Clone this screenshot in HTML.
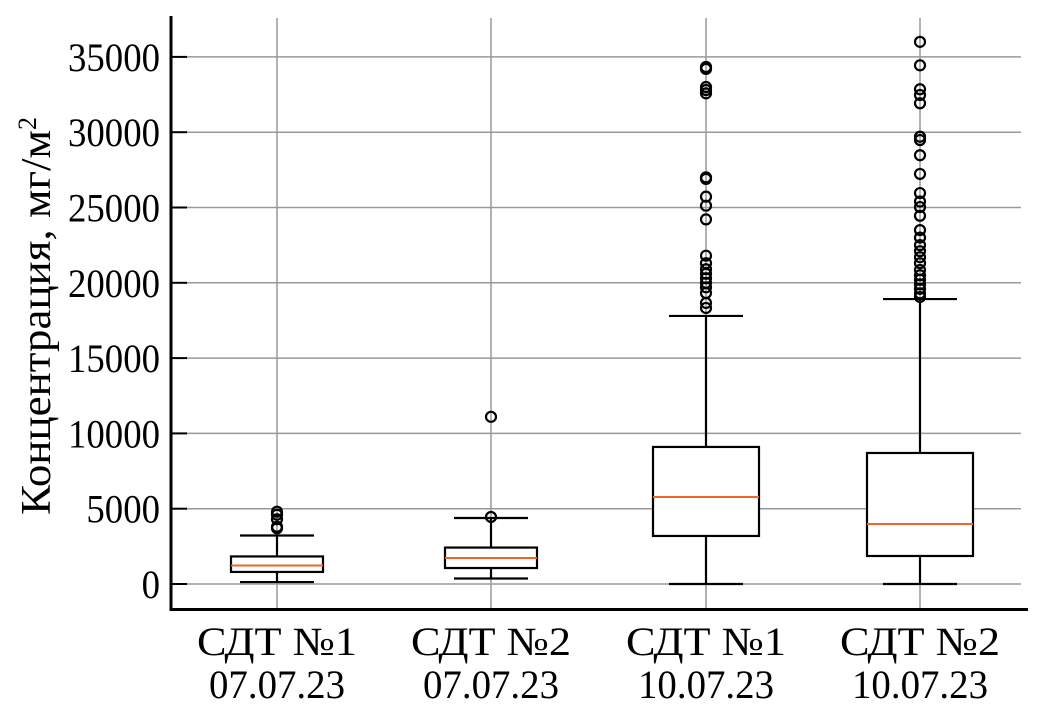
<!DOCTYPE html>
<html><head><meta charset="utf-8"><style>
html,body{margin:0;padding:0;background:#fff;width:1052px;height:718px;overflow:hidden}
svg text{font-family:"Liberation Serif",serif;fill:#000}
</style></head><body>
<svg id="chart" width="1052" height="718" viewBox="0 0 1052 718" xmlns="http://www.w3.org/2000/svg"></svg>
<script>
const categories1 = ["СДТ №1", "СДТ №2", "СДТ №1", "СДТ №2"];
const categories2 = ["07.07.23", "07.07.23", "10.07.23", "10.07.23"];
const whiskerLow = [130, 365, 0, 0];
const q1 = [800, 1060, 3190, 1860];
const medians = [1230, 1730, 5780, 3980];
const q3 = [1830, 2420, 9100, 8700];
const whiskerHigh = [3220, 4380, 17800, 18920];
const outliers = [
  [3700, 3800, 4300, 4600, 4800],
  [4450, 11100],
  [18330, 18660, 19320, 19700, 20000, 20300, 20600, 20900, 21300, 21800, 24210, 25120, 25720, 26900, 27000, 32580, 32800, 33000, 34200, 34330],
  [19060, 19300, 19600, 19900, 20200, 20500, 20850, 21300, 21700, 22100, 22500, 23000, 23500, 24450, 25030, 25400, 25960, 27230, 28470, 29480, 29700, 31920, 32470, 32850, 34440, 36000]
];
const yTicks = [0, 5000, 10000, 15000, 20000, 25000, 30000, 35000];

const NS = "http://www.w3.org/2000/svg";
const svg = document.getElementById("chart");
const X0 = 171, X1 = 1021, Y0 = 584, PX = 75.3 / 5000;
const xCenters = [277, 491, 706, 920];
function yScale(v){ return Y0 - v * PX; }
function xScale(i){ return xCenters[i]; }
function mk(tag, attrs, parent){ const e = document.createElementNS(NS, tag); for (const k in attrs) e.setAttribute(k, attrs[k]); (parent||svg).appendChild(e); return e; }

const grid = mk("g", {});


yTicks.forEach(t => {
  const l = mk("line", {x1:X0, x2:X1, y1:yScale(t), y2:yScale(t), stroke:"#999", "stroke-width":1.5}, grid);
  
  
});
categories1.forEach((c,i) => {
  const l = mk("line", {x1:xScale(i), x2:xScale(i), y1:18, y2:609, stroke:"#999", "stroke-width":1.5}, grid);
  
  
});

categories1.forEach((c,i) => {
  const g = mk("g", {});
  
  
  const x = xScale(i), hw = i<2 ? 46 : 53, cw = 37;
  mk("line", {x1:x, x2:x, y1:yScale(whiskerLow[i]), y2:yScale(q1[i]), stroke:"#000", "stroke-width":2.2}, g);
  mk("line", {x1:x, x2:x, y1:yScale(q3[i]), y2:yScale(whiskerHigh[i]), stroke:"#000", "stroke-width":2.2}, g);
  mk("line", {x1:x-cw, x2:x+cw, y1:yScale(whiskerLow[i]), y2:yScale(whiskerLow[i]), stroke:"#000", "stroke-width":2.2}, g);
  mk("line", {x1:x-cw, x2:x+cw, y1:yScale(whiskerHigh[i]), y2:yScale(whiskerHigh[i]), stroke:"#000", "stroke-width":2.2}, g);
  mk("rect", {x:x-hw, y:yScale(q3[i]), width:2*hw, height:yScale(q1[i])-yScale(q3[i]), fill:"#fff", stroke:"#000", "stroke-width":2.2}, g);
  mk("line", {x1:x-hw, x2:x+hw, y1:yScale(medians[i]), y2:yScale(medians[i]), stroke:"#f0642a", "stroke-width":2}, g);
  outliers[i].forEach(v => {
    const o = mk("circle", {cx:x, cy:yScale(v), r:5, fill:"none", stroke:"#000", "stroke-width":2.2}, g);
    
    
  });
});

const ax = mk("g", {});


mk("line", {x1:X0, x2:X0, y1:16, y2:611, stroke:"#000", "stroke-width":3}, ax);
mk("line", {x1:X0-1.5, x2:1028, y1:609.5, y2:609.5, stroke:"#000", "stroke-width":3}, ax);
yTicks.forEach(t => {
  mk("line", {x1:X0, x2:X0+16, y1:yScale(t), y2:yScale(t), stroke:"#000", "stroke-width":2}, ax);
  const s = String(t);
  const tx = mk("text", {x:160, y:yScale(t)+14, "text-anchor":"end", "font-size":40, textLength:s.length*18.4, lengthAdjust:"spacingAndGlyphs"}, ax);
  tx.textContent = s;
  
  
});
categories1.forEach((c,i) => {
  const t1 = mk("text", {x:xScale(i), y:655, "text-anchor":"middle", "font-size":40, textLength:160, lengthAdjust:"spacingAndGlyphs"}, ax);
  t1.textContent = c;
  
  
  const t2 = mk("text", {x:xScale(i), y:698, "text-anchor":"middle", "font-size":40, textLength:136, lengthAdjust:"spacingAndGlyphs"}, ax);
  t2.textContent = categories2[i];
  
  
});
const yl = mk("text", {x:0, y:0, "text-anchor":"middle", "font-size":42, transform:"translate(50,316) rotate(-90)"}, ax);
yl.innerHTML = '<tspan textLength="385" lengthAdjust="spacingAndGlyphs">Концентрация, мг/м</tspan><tspan dy="-14" font-size="26">2</tspan>';


</script>
</body></html>
